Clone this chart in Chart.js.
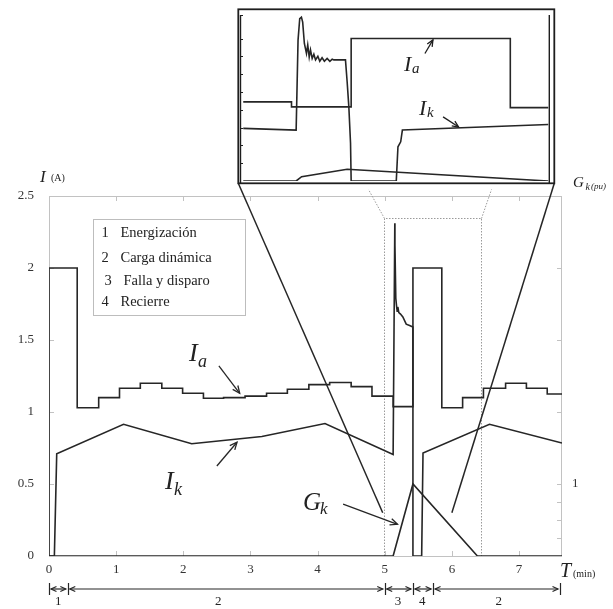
<!DOCTYPE html>
<html><head><meta charset="utf-8">
<script src="https://cdn.jsdelivr.net/npm/chart.js@4/dist/chart.umd.min.js"></script>
<style>
html,body{margin:0;padding:0;background:#fff;}
#wrap{position:relative;width:613px;height:609px;overflow:hidden;font-family:"Liberation Serif","DejaVu Serif",serif;color:#222;}
canvas{position:absolute;}
#main{left:0;top:0;}
#inset{left:230px;top:0;}
.t{position:absolute;white-space:nowrap;line-height:1;}
.i{font-style:italic;}
#legbox{position:absolute;left:93px;top:219px;width:151px;height:95px;border:1px solid #bdbdbd;background:#fff;}
</style></head>
<body><div id="wrap">
<canvas id="main" width="613" height="609"></canvas>
<canvas id="inset" width="330" height="190"></canvas>
<div id="legbox"></div>
<div id="texts"></div>
</div>
<script>
// ---------- Main chart data (time in min) ----------
const xTickVals = [0, 1, 2, 3, 4, 5, 6, 7];
const gkTickVals = [0, 0.25, 0.5, 0.75, 1, 2, 3, 4, 5];
const iaT = [0, 0, 0.42, 0.74, 1.05, 1.36, 1.68, 1.99, 2.30, 2.60, 2.92, 3.24, 3.55, 3.87, 4.18, 4.50, 4.81, 5.125, 5.42, 5.85, 6.16, 6.47, 6.80, 7.11, 7.42, 7.64];
const iaV = [0, 2.0, 1.03, 1.10, 1.165, 1.20, 1.165, 1.13, 1.096, 1.10, 1.11, 1.13, 1.158, 1.19, 1.205, 1.176, 1.11, 1.037, 2.0, 1.03, 1.10, 1.165, 1.20, 1.165, 1.125, 1.125];
const ikT = [0, 0.08, 0.115, 1.11, 2.125, 3.17, 4.11, 5.125, 5.15, 5.152, 5.165, 5.175, 5.185, 5.195, 5.21, 5.235, 5.27, 5.32, 5.37, 5.42, 5.42, 5.55, 5.57, 6.56, 7.64];
const ikV = [0, 0, 0.71, 0.915, 0.78, 0.83, 0.92, 0.705, 2.31, 2.16, 1.79, 1.74, 1.70, 1.73, 1.69, 1.68, 1.66, 1.61, 1.60, 1.59, 0, 0, 0.715, 0.915, 0.785];
const gkT = [0, 5.125, 5.42, 6.38, 7.64];
const gkV = [0, 0, 1.0, 0, 0];

// phases shown under the time axis
const phaseBounds = [0, 0.28, 5.0, 5.42, 5.72, 7.61];
const phaseNames = ['1', '2', '3', '4', '2'];
const phaseLabelT = [0.14, 2.52, 5.2, 5.56, 6.7];

// zoomed window (dotted rectangle) and connector targets
const zoomT0 = 4.99, zoomT1 = 6.44, zoomTop = 2.35;
const connL = [4.97, 0.30], connR = [6.00, 0.30];

// label arrows in data coords [t1, I1, t2, I2]
const labelArrows = [[2.53, 1.32, 2.84, 1.13], [2.50, 0.625, 2.80, 0.79], [4.38, 0.36, 5.19, 0.22]];

// ---------- Inset data ----------
const insIaT = [4.988, 5.217, 5.50, 6.255, 6.435];
const insIaV = [1.11, 1.04, 2.0, 1.03, 1.03];
const insIkT = [4.988, 5.239, 5.248, 5.256, 5.264, 5.27, 5.278, 5.288, 5.294, 5.301, 5.307, 5.315, 5.323, 5.331, 5.342, 5.351, 5.362, 5.373, 5.386, 5.399, 5.41, 5.418, 5.473, 5.481, 5.489, 5.497, 5.50, 5.714, 5.722, 5.735, 5.743, 6.435];
const insIkV = [0.738, 0.715, 1.977, 2.28, 2.30, 2.23, 1.93, 1.79, 1.91, 1.74, 1.84, 1.72, 1.78, 1.70, 1.75, 1.68, 1.73, 1.68, 1.72, 1.68, 1.71, 1.70, 1.70, 1.39, 1.04, 0.53, 0, 0, 0.48, 0.55, 0.715, 0.794];
const insGkT = [4.988, 5.239, 5.265, 5.481, 6.435];
const insGkV = [0, 0, 0.06, 0.165, 0];
const insArrows = [[5.85, 1.79, 5.888, 1.98], [5.936, 0.90, 6.01, 0.757]];

// ---------- helpers ----------
const pts = (t, v) => t.map((x, i) => ({x: x, y: v[i]}));
const LINE = '#262626', AX = '#c2c2c2';
const font = {family: '"Liberation Serif", serif', size: 13};
function headAt(ctx, x, y, ang, len) {
  const w = 0.42;
  ctx.beginPath();
  ctx.moveTo(x - len * Math.cos(ang - w), y - len * Math.sin(ang - w));
  ctx.lineTo(x, y);
  ctx.lineTo(x - len * Math.cos(ang + w), y - len * Math.sin(ang + w));
  ctx.stroke();
}
function arrow(ctx, x1, y1, x2, y2, len, both) {
  ctx.beginPath(); ctx.moveTo(x1, y1); ctx.lineTo(x2, y2); ctx.stroke();
  headAt(ctx, x2, y2, Math.atan2(y2 - y1, x2 - x1), len);
  if (both) headAt(ctx, x1, y1, Math.atan2(y1 - y2, x1 - x2), len);
}
function line(ctx, x1, y1, x2, y2) { ctx.beginPath(); ctx.moveTo(x1, y1); ctx.lineTo(x2, y2); ctx.stroke(); }
const ds = (data, extra) => Object.assign({data: data, borderColor: LINE, borderWidth: 1.6, pointRadius: 0, tension: 0, fill: false}, extra || {});

// ---------- Inset chart ----------
let insetFrame = null;
const insetPlugin = {
  id: 'insetDeco',
  afterDatasetsDraw(chart) {
    const {ctx, chartArea: a, scales} = chart;
    ctx.save();
    ctx.strokeStyle = '#1e1e1e';
    ctx.lineWidth = 1.8;
    ctx.strokeRect(a.left - 2.2, a.top - 5.7, a.right - a.left + 7.2, a.bottom - a.top + 8);
    ctx.lineWidth = 1.4;
    line(ctx, a.left, a.top, a.left, a.bottom + 2);
    line(ctx, a.right, a.top, a.right, a.bottom + 2);
    ctx.lineWidth = 1;
    scales.y.ticks.forEach(t => {
      if (t.value <= 0) return;
      const py = Math.round(scales.y.getPixelForValue(t.value)) + 0.5;
      line(ctx, a.left, py, a.left + 2.5, py);
    });
    ctx.lineWidth = 1.3;
    insArrows.forEach(r => arrow(ctx, scales.x.getPixelForValue(r[0]), scales.y.getPixelForValue(r[1]), scales.x.getPixelForValue(r[2]), scales.y.getPixelForValue(r[3]), 7, false));
    ctx.restore();
  }
};
const insetChart = new Chart(document.getElementById('inset'), {
  type: 'line',
  data: {datasets: [
    ds(pts(insIaT, insIaV), {stepped: true}),
    ds(pts(insIkT, insIkV)),
    ds(pts(insGkT, insGkV))
  ]},
  options: {
    responsive: false, animation: false, events: [],
    layout: {padding: {left: 10.5, right: 10.7, top: 15, bottom: 9}},
    plugins: {legend: {display: false}, tooltip: {enabled: false}},
    scales: {
      x: {type: 'linear', min: 4.975, max: 6.44, ticks: {display: false}, grid: {display: false, drawTicks: false}, border: {display: false}, afterFit(s) { s.height = 0; }},
      y: {min: 0, max: 2.33, ticks: {display: false, stepSize: 0.25}, grid: {display: false, drawTicks: false}, border: {display: false}, afterFit(s) { s.width = 0; }}
    }
  },
  plugins: [insetPlugin]
});
(function () {
  const a = insetChart.chartArea, ox = 230, oy = 0;
  insetFrame = {left: ox + a.left - 2.2, right: ox + a.right + 5, bottom: oy + a.bottom + 2.3};
})();

// ---------- Main chart ----------
const mainPlugin = {
  id: 'mainDeco',
  beforeDatasetsDraw(chart) {
    const {ctx, chartArea: a, scales} = chart;
    const X = scales.x, Y = scales.y, Y2 = scales.y2;
    ctx.save();
    ctx.strokeStyle = AX; ctx.lineWidth = 1;
    ctx.strokeRect(a.left + 0.5, a.top + 0.5, a.right - a.left - 1, a.bottom - a.top);
    X.ticks.forEach(t => {
      const px = Math.round(X.getPixelForValue(t.value)) + 0.5;
      line(ctx, px, a.bottom, px, a.bottom - 5);
      line(ctx, px, a.top, px, a.top + 5);
    });
    Y.ticks.forEach(t => {
      const py = Math.round(Y.getPixelForValue(t.value)) + 0.5;
      line(ctx, a.left, py, a.left + 5, py);
    });
    Y2.ticks.forEach(t => {
      const py = Math.round(Y2.getPixelForValue(t.value)) + 0.5;
      line(ctx, a.right, py, a.right - 5, py);
    });
    // dotted zoom window
    const l = Math.round(X.getPixelForValue(zoomT0)) + 0.5, r = Math.round(X.getPixelForValue(zoomT1)) + 0.5;
    const tp = Math.round(Y.getPixelForValue(zoomTop)) + 0.5, bt = Y.getPixelForValue(0);
    ctx.strokeStyle = '#9a9a9a'; ctx.setLineDash([1.5, 1.5]);
    ctx.beginPath(); ctx.moveTo(l, bt); ctx.lineTo(l, tp); ctx.lineTo(r, tp); ctx.lineTo(r, bt); ctx.stroke();
    line(ctx, l, tp, l - 16, tp - 29);
    line(ctx, r, tp, r + 10, tp - 29);
    ctx.setLineDash([]);
    ctx.restore();
  },
  afterDatasetsDraw(chart) {
    const {ctx, scales} = chart;
    const X = scales.x, Y = scales.y;
    ctx.save();
    ctx.strokeStyle = LINE; ctx.lineWidth = 1.5;
    // connectors from inset frame
    line(ctx, insetFrame.left, insetFrame.bottom, X.getPixelForValue(connL[0]), Y.getPixelForValue(connL[1]));
    line(ctx, insetFrame.right, insetFrame.bottom, X.getPixelForValue(connR[0]), Y.getPixelForValue(connR[1]));
    // label arrows
    ctx.lineWidth = 1.3;
    labelArrows.forEach(r => arrow(ctx, X.getPixelForValue(r[0]), Y.getPixelForValue(r[1]), X.getPixelForValue(r[2]), Y.getPixelForValue(r[3]), 8, false));
    // phase arrows
    const ya = 589;
    ctx.lineWidth = 1.2;
    phaseBounds.forEach(b => { const px = Math.round(X.getPixelForValue(b)) + 0.5; line(ctx, px, 583, px, 595); });
    for (let i = 0; i < phaseBounds.length - 1; i++) {
      const x1 = X.getPixelForValue(phaseBounds[i]) + 2, x2 = X.getPixelForValue(phaseBounds[i + 1]) - 2;
      arrow(ctx, x1, ya, x2, ya, 6, true);
    }
    ctx.restore();
  }
};
const mainChart = new Chart(document.getElementById('main'), {
  type: 'line',
  data: {datasets: [
    ds(pts(iaT, iaV), {stepped: true, yAxisID: 'y'}),
    ds(pts(ikT, ikV), {yAxisID: 'y'}),
    ds(pts(gkT, gkV), {yAxisID: 'y2'})
  ]},
  options: {
    responsive: false, animation: false, events: [],
    layout: {padding: {top: 196, left: 1, right: 0, bottom: 0}},
    plugins: {legend: {display: false}, tooltip: {enabled: false}},
    scales: {
      x: {type: 'linear', min: 0, max: 7.64,
          afterBuildTicks(s) { s.ticks = xTickVals.map(v => ({value: v})); },
          ticks: {font: font, color: '#333', padding: 6, maxRotation: 0, autoSkip: false},
          grid: {display: false, drawTicks: false}, border: {display: false},
          afterFit(s) { s.height = 53; }},
      y: {position: 'left', min: 0, max: 2.5,
          ticks: {stepSize: 0.5, font: font, color: '#333', padding: 15, callback: v => String(Math.round(v * 10) / 10)},
          grid: {display: false, drawTicks: false}, border: {display: false},
          afterFit(s) { s.width = 48; }},
      y2: {position: 'right', min: 0, max: 5,
          afterBuildTicks(s) { s.ticks = gkTickVals.map(v => ({value: v})); },
          ticks: {callback: v => (v === 1 ? '1' : ''), font: font, color: '#333', padding: 10, autoSkip: false},
          grid: {display: false, drawTicks: false}, border: {display: false},
          afterFit(s) { s.width = 51; }}
    }
  },
  plugins: [mainPlugin]
});

// ---------- Text (HTML) ----------
const texts = document.getElementById('texts');
function txt(s, left, baseline, size, italic, extra) {
  const d = document.createElement('div');
  d.className = 't' + (italic ? ' i' : '');
  d.textContent = s;
  d.style.left = left + 'px';
  d.style.top = (baseline - 0.84 * size) + 'px';
  d.style.fontSize = size + 'px';
  if (extra) Object.assign(d.style, extra);
  texts.appendChild(d);
  return d;
}
// axis titles
txt('I', 40, 182, 17, true); txt('(A)', 51, 181, 10, false);
txt('G', 573, 188, 15, true); txt('k', 585.5, 190, 10, true); txt('(pu)', 591, 190, 9, true);
txt('T', 560, 577, 20, true); txt('(min)', 573, 577, 10, false);
// series labels main
txt('I', 189, 362, 26, true); txt('a', 198, 367, 18, true);
txt('I', 165, 490, 26, true); txt('k', 174, 495, 18, true);
txt('G', 303, 510, 25, true); txt('k', 320, 514, 17, true);
// series labels inset
txt('I', 404, 71, 22, true); txt('a', 412, 74, 15, true);
txt('I', 419, 115, 22, true); txt('k', 427, 118, 15, true);
// legend of phases
const legendNums = ['1', '2', '3', '4'];
const legendTexts = ['Energización', 'Carga dinámica', 'Falla y disparo', 'Recierre'];
const legendRowY = [237, 262, 285, 306];
legendNums.forEach((n, i) => {
  const sh = i === 2 ? 3 : 0;
  txt(n, 101.5 + sh, legendRowY[i], 14.5, false);
  txt(legendTexts[i], 120.5 + sh, legendRowY[i], 14.5, false);
});
// phase labels
phaseNames.forEach((n, i) => {
  const px = mainChart.scales.x.getPixelForValue(phaseLabelT[i]);
  txt(n, px - 3.3, 605, 13, false);
});
</script>
</body></html>
